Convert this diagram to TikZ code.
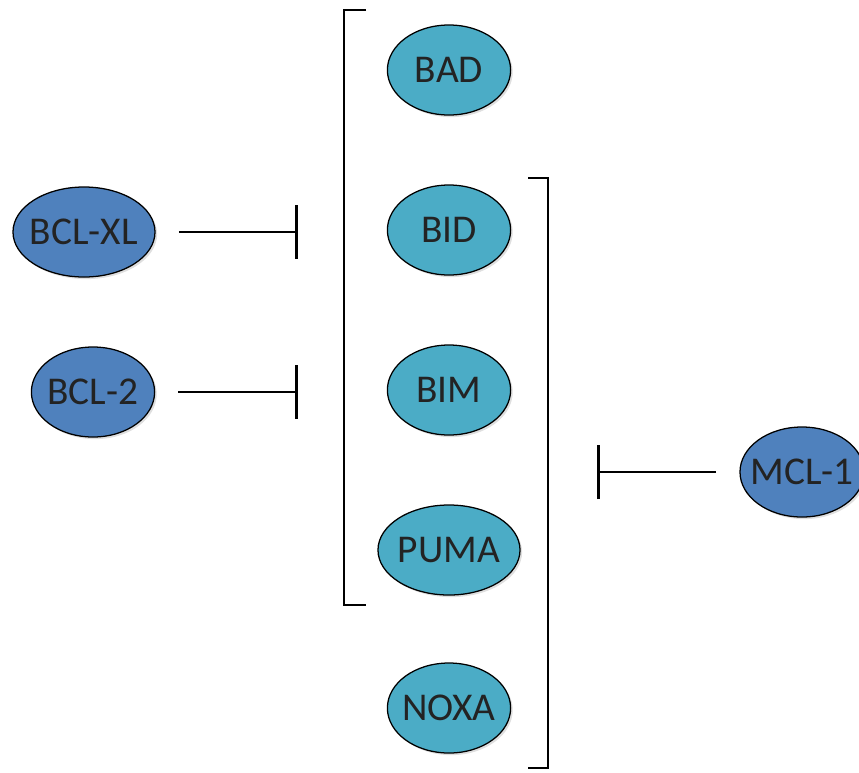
\documentclass[tikz,border=0pt]{standalone}
\usepackage{fontspec}
\setmainfont{Carlito}
\usepackage{tikz}
\usetikzlibrary{arrows.meta,positioning,shapes.geometric,shadows}
\definecolor{bclblue}{RGB}{79,129,189}
\definecolor{bhteal}{RGB}{75,172,198}
\definecolor{labelgray}{RGB}{35,35,35}

\tikzset{
  protein/.style={ellipse,draw=black,line width=0.9pt,inner xsep=-0.4cm,inner ysep=0pt,
    minimum width=3.08cm,minimum height=2.25cm,text=labelgray,
    font=\fontsize{28}{32}\selectfont,
    drop shadow={shadow xshift=1.5pt,shadow yshift=-1.5pt,opacity=0.25}},
  guard/.style={protein,fill=bclblue},
  bh3/.style={protein,fill=bhteal},
  inhibit/.style={line width=2pt,-{Bar[width=1.35cm,line width=2pt]}},
  bracket/.style={line width=2pt}
}

\begin{document}
\begin{tikzpicture}[x=0.025cm,y=-0.025cm]
\useasboundingbox (0,0) rectangle (859,772);
% BH3-only proteins
\node[bh3] (bad) at (449,70) {BAD};
\node[bh3] (bid) at (449,230) {BID};
\node[bh3] (bim) at (449,390) {BIM};
\node[bh3,minimum width=3.55cm] (puma) at (449,550) {PUMA};
\node[bh3] (noxa) at (449,708) {NOXA};
% anti-apoptotic members
\node[guard,minimum width=3.55cm] (bclxl) at (84,232) {BCL-XL};
\node[guard] (bcl2) at (93,392) {BCL-2};
\node[guard,minimum width=3.1cm] (mcl1) at (802,472) {MCL-1};
% brackets
\draw[bracket] (366,10) -- (344,10) -- (344,605) -- (366,605);
\draw[bracket] (528,178) -- (548,178) -- (548,768) -- (528,768);
% inhibition
\coordinate (xlbar) at (298,232);
\coordinate (bcl2bar) at (298,392);
\coordinate (mclbar) at (597,472);
\draw[inhibit,shorten <=0.58cm] (bclxl.east) -- (xlbar);
\draw[inhibit,shorten <=0.58cm] (bcl2.east) -- (bcl2bar);
\draw[inhibit,shorten <=0.58cm] (mcl1.west) -- (mclbar);
\end{tikzpicture}
\end{document}
